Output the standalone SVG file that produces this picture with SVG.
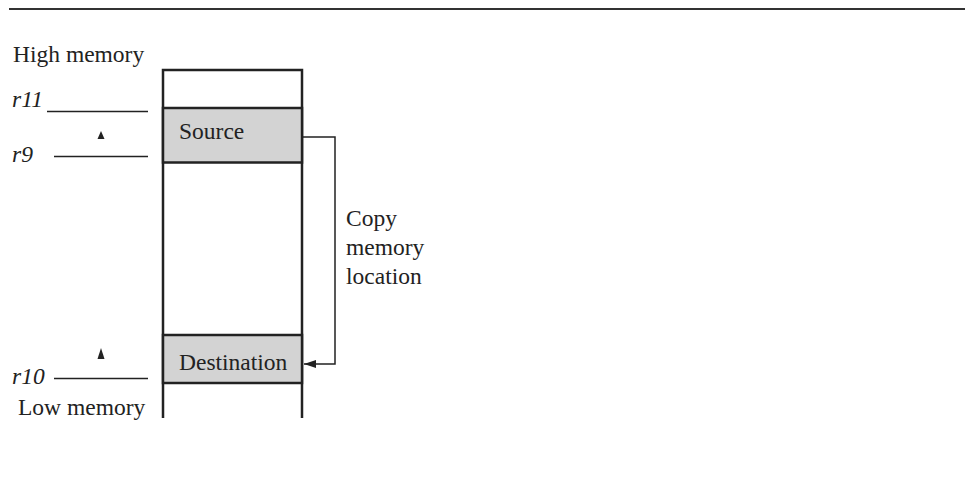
<svg xmlns="http://www.w3.org/2000/svg" width="965" height="486" viewBox="0 0 965 486">
<style>
text{font-family:"Liberation Serif","Times New Roman",serif;font-size:23.5px;fill:#222}
.it{font-style:italic}
.thin{stroke:#222;stroke-width:1.5;fill:none}
.col{stroke:#222;stroke-width:2.5;fill:none}
.box{fill:#d3d3d3;stroke:#222;stroke-width:2.5}
</style>
<defs>
<marker id="ah" viewBox="0 0 12 8" refX="12" refY="4" markerWidth="12" markerHeight="8" markerUnits="userSpaceOnUse" orient="auto">
<path d="M0,0 L12,4 L0,8 z" fill="#222"/>
</marker>
</defs>
<line x1="9" y1="9" x2="965" y2="9" stroke="#333" stroke-width="2"/>
<g id="labels">
<text x="13" y="62">High memory</text>
<text x="18" y="415">Low memory</text>
</g>
<g id="r11"><text class="it" x="12" y="107">r11</text><line class="thin" x1="47" y1="111.5" x2="148" y2="111.5"/></g>
<g id="r9"><text class="it" x="12" y="162">r9</text><line class="thin" x1="54" y1="156.5" x2="148" y2="156.5"/><path d="M97.5,139 L101,131 L104.5,139 z" fill="#222"/></g>
<g id="r10"><text class="it" x="12" y="384">r10</text><line class="thin" x1="54" y1="378.5" x2="148" y2="378.5"/><path d="M97.5,359 L101,348 L104.5,359 z" fill="#222"/></g>
<g id="memory">
<path class="col" d="M163,418 V70 H302 V418"/>
</g>
<g id="source"><rect class="box" x="163" y="108" width="139" height="54.5"/><text x="179" y="139">Source</text></g>
<g id="destination"><rect class="box" x="163" y="335" width="139" height="48"/><text x="179" y="370">Destination</text></g>
<g id="connectors">
<path class="thin" d="M302,137 H335 V364 H304" marker-end="url(#ah)"/>
</g>
<g id="copy-label">
<text x="346" y="226">Copy</text>
<text x="346" y="255">memory</text>
<text x="346" y="284">location</text>
</g>
</svg>
